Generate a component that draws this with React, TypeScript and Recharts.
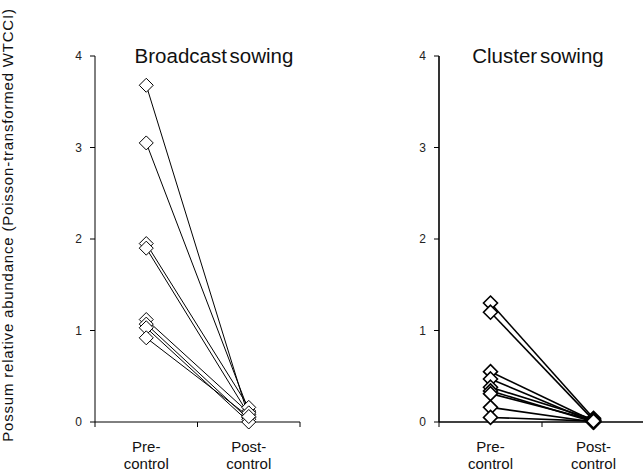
import React from 'react'
import { LineChart, Line, XAxis, YAxis } from 'recharts'

const categories = ['Pre-control', 'Post-control']
const yTicks = [0, 1, 2, 3, 4]

// broadcast sowing, one entry per site
const broadcastPre = [3.68, 3.05, 1.95, 1.9, 1.12, 1.07, 1.03, 0.92]
const broadcastPost = [0.05, 0.12, 0.16, 0.08, 0.1, 0.03, 0.0, 0.06]

// cluster sowing
const clusterPre = [1.3, 1.2, 0.55, 0.47, 0.38, 0.34, 0.31, 0.16, 0.05]
const clusterPost = [0.04, 0.02, 0.01, 0.0, 0.03, 0.0, 0.02, 0.0, 0.01]

const FONT = '"Liberation Sans", Arial, sans-serif'

function buildRows(pre: number[], post: number[]) {
  const cols = [pre, post]
  return categories.map((cat, i) => {
    const row: any = { x: i + 0.5, cat }
    cols[i].forEach((v, k) => {
      row['s' + k] = v
    })
    return row
  })
}

const Diamond = (props: any) => {
  const { cx, cy, r, sw } = props
  if (cx == null || cy == null) return null
  return (
    <path
      d={`M${cx},${cy - r}L${cx + r},${cy}L${cx},${cy + r}L${cx - r},${cy}Z`}
      fill="#fff"
      stroke="#000"
      strokeWidth={sw}
    />
  )
}

// ticks at 0,1,2 are plain tick marks, at 0.5 / 1.5 they carry the category name
const XTick = (props: any) => {
  const { x, y, payload } = props
  const v = payload.value
  if (Number.isInteger(v)) {
    return <line x1={x} y1={y} x2={x} y2={y + 5} stroke="#000" strokeWidth={1} />
  }
  const label = categories[Math.floor(v)]
  const [first, second] = label.split('-')
  return (
    <text x={x} y={y} textAnchor="middle" fontSize={15} fill="#111" fontFamily={FONT}>
      <tspan x={x} dy={30}>{first}-</tspan>
      <tspan x={x} dy={17}>{second}</tspan>
    </text>
  )
}

function Panel({ pre, post, left, yWidth, rightMargin, lineW }: any) {
  const rows = buildRows(pre, post)
  const keys = pre.map((_: number, k: number) => 's' + k)
  return (
    <div style={{ position: 'absolute', left, top: 0 }}>
      <LineChart
        width={320}
        height={474}
        data={rows}
        margin={{ top: 56, right: rightMargin, bottom: 0, left: 0 }}
      >
        <XAxis
          type="number"
          dataKey="x"
          domain={[0, 2]}
          ticks={[0, 0.5, 1, 1.5, 2]}
          tick={<XTick />}
          tickLine={false}
          tickSize={0}
          tickMargin={0}
          height={52}
          axisLine={{ stroke: '#000', strokeWidth: lineW }}
        />
        <YAxis
          type="number"
          domain={[0, 4]}
          ticks={yTicks}
          width={yWidth}
          tickSize={5}
          tickMargin={8}
          tick={{ fontSize: 12, fill: '#222', fontFamily: FONT }}
          axisLine={{ stroke: '#000', strokeWidth: lineW }}
          tickLine={{ stroke: '#000' }}
        />
        {keys.map((k: string) => (
          <Line
            key={'l' + k}
            dataKey={k}
            stroke="#000"
            strokeWidth={lineW}
            dot={false}
            activeDot={false}
            isAnimationActive={false}
          />
        ))}
        {keys.map((k: string) => (
          <Line
            key={'d' + k}
            dataKey={k}
            stroke="none"
            dot={<Diamond r={7} sw={lineW} />}
            activeDot={false}
            isAnimationActive={false}
          />
        ))}
      </LineChart>
    </div>
  )
}

export default function App() {
  return (
    <div
      style={{
        position: 'absolute',
        left: 0,
        top: 0,
        width: 643,
        height: 474,
        overflow: 'hidden',
        background: '#fff',
        fontFamily: FONT,
      }}
    >
      <Panel pre={broadcastPre} post={broadcastPost} left={0} yWidth={95} rightMargin={20} lineW={1} />
      <Panel pre={clusterPre} post={clusterPost} left={340} yWidth={99} rightMargin={15} lineW={1.6} />
      <svg
        width={643}
        height={474}
        style={{ position: 'absolute', left: 0, top: 0, pointerEvents: 'none' }}
      >
        <text x={214} y={63} textAnchor="middle" fontSize={20.5} fill="#111" fontFamily={FONT} wordSpacing={-3}>
          Broadcast sowing
        </text>
        <text x={538} y={63} textAnchor="middle" fontSize={20.5} fill="#111" fontFamily={FONT} wordSpacing={-3}>
          Cluster sowing
        </text>
        <text
          transform="translate(13,225) rotate(-90)"
          textAnchor="middle"
          fontSize={15}
          fill="#111"
          fontFamily={FONT}
          letterSpacing={0.8}
        >
          Possum relative abundance (Poisson-transformed WTCCI)
        </text>
      </svg>
    </div>
  )
}
